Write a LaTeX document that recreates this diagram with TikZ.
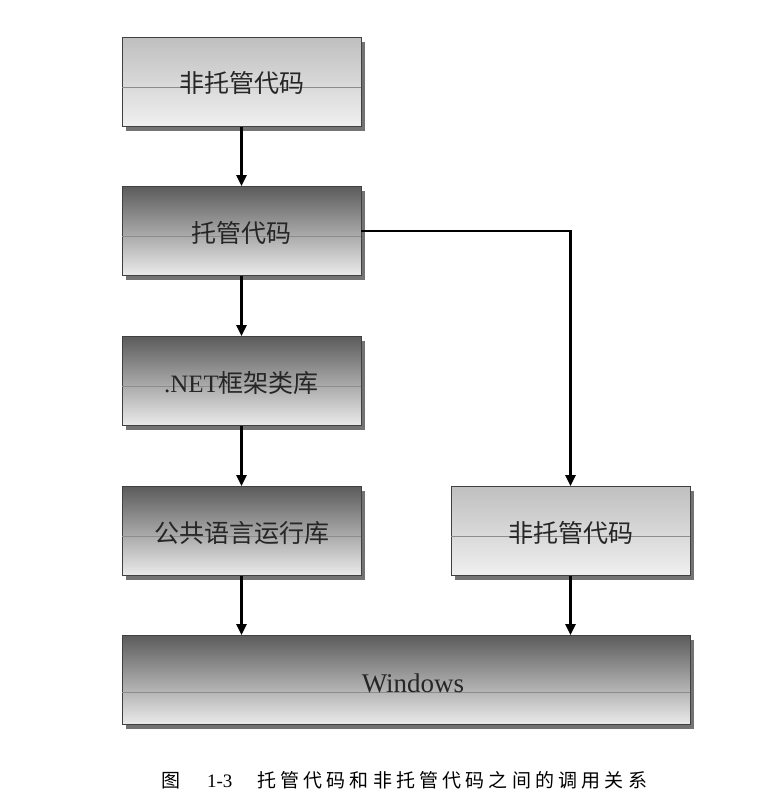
\documentclass[tikz,border=0pt]{standalone}
\usepackage{fontspec}
\setmainfont{Liberation Serif}
\newfontfamily\cjk{Noto Sans CJK SC}
\newfontfamily\cjkcap[LetterSpace=22]{Noto Sans CJK SC}
\usetikzlibrary{arrows.meta,shadows}
\begin{document}
\begin{tikzpicture}[x=1pt,y=-1pt,
  boxbase/.style={draw=black!75,line width=0.8pt,minimum width=239pt,minimum height=89pt,inner sep=0pt,
    drop shadow={shadow xshift=4pt,shadow yshift=-4pt,fill=black!55,opacity=1}},
  lightbox/.style={boxbase,top color=black!25,bottom color=black!6},
  darkbox/.style={boxbase,top color=black!64,bottom color=black!8},
  lbl/.style={font=\cjk\fontsize{25}{28}\selectfont,text=black!85},
  arr/.style={line width=2.4pt,-{Triangle[length=11pt,width=10pt]}},
  midline/.style={draw=black!45,line width=0.6pt}]
\useasboundingbox (0,0) rectangle (777,806);
\node[lightbox] (a) at (241.5,82) {};
\node[darkbox] (b) at (241.5,231) {};
\node[darkbox] (c) at (241.5,381) {};
\node[darkbox] (d) at (241.5,531) {};
\node[lightbox] (e) at (570.5,531) {};
\node[darkbox,minimum width=568pt] (w) at (406,680) {};
\foreach \n in {a,b,c,d,e}{\draw[midline] ([yshift=-5pt]\n.west) -- ([yshift=-5pt]\n.east);}
\draw[midline] ([yshift=-12pt]w.west) -- ([yshift=-12pt]w.east);
\node[lbl] at ([yshift=-1pt]a.center) {非托管代码};
\node[lbl] at ([yshift=-2pt]b.center) {托管代码};
\node[lbl] at ([yshift=-2pt]c.center) {\rmfamily .NET\cjk 框架类库};
\node[lbl] at ([yshift=-2pt]d.center) {公共语言运行库};
\node[lbl] at ([yshift=-2pt]e.center) {非托管代码};
\node[font=\fontsize{27}{30}\selectfont,text=black!85] at ([xshift=7pt,yshift=-3pt]w.center) {Windows};
\draw[arr] (a.south) -- (b.north);
\draw[arr] (b.south) -- (c.north);
\draw[arr] (c.south) -- (d.north);
\draw[arr] (d.south) -- (d.south |- w.north);
\draw[arr] (e.south) -- (e.south |- w.north);
\draw[arr] (b.east) -| (e.north);
\node[font=\cjkcap\fontsize{19}{20}\selectfont,anchor=west] (cap) at (158,780) {图\hspace{1.4em}{\rmfamily\fontsize{19}{20}\selectfont 1-3}\hspace{1.3em}托管代码和非托管代码之间的调用关系};
\end{tikzpicture}
\end{document}
